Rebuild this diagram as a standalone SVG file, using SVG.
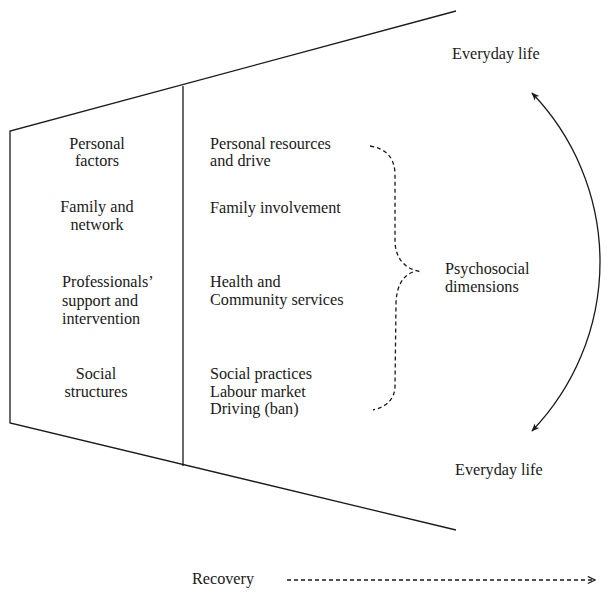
<svg xmlns="http://www.w3.org/2000/svg" width="611" height="600" viewBox="0 0 611 600">
<style>
text{font-family:"Liberation Serif","Times New Roman",serif;font-size:16.2px;fill:#1a1a1a}
.c{text-anchor:middle}
.ln{fill:none;stroke:#1a1a1a;stroke-width:1.3}
.dash{fill:none;stroke:#1a1a1a;stroke-width:1.3;stroke-dasharray:4,3}
</style>
<defs>
<marker id="ah" viewBox="0 0 10 10" refX="9" refY="5" markerWidth="8" markerHeight="8" orient="auto-start-reverse" markerUnits="userSpaceOnUse">
<path d="M0,1 L10,5 L0,9 L2.5,5 Z" fill="#1a1a1a"/>
</marker>
<marker id="oh" viewBox="0 0 10 10" refX="9" refY="5" markerWidth="9" markerHeight="9" orient="auto" markerUnits="userSpaceOnUse">
<path d="M1,1 L9,5 L1,9" fill="none" stroke="#1a1a1a" stroke-width="1.3"/>
</marker>
</defs>
<g id="funnel">
<path class="ln" d="M456,11 L10,131 L10,423 L456,530"/>
<line class="ln" x1="183" y1="86" x2="183" y2="466"/>
</g>
<g id="left-labels">
<text class="c" x="97" y="148.5">Personal</text>
<text class="c" x="97" y="166">factors</text>
<text class="c" x="97" y="212">Family and</text>
<text class="c" x="97" y="229.5">network</text>
<text x="62" y="287">Professionals’</text>
<text x="62" y="305.5">support and</text>
<text x="62" y="324">intervention</text>
<text class="c" x="96" y="379">Social</text>
<text class="c" x="96" y="397">structures</text>
</g>
<g id="right-labels">
<text x="210" y="148.5">Personal resources</text>
<text x="210" y="166">and drive</text>
<text x="210" y="212.5">Family involvement</text>
<text x="210" y="287">Health and</text>
<text x="210" y="305">Community services</text>
<text x="210" y="379">Social practices</text>
<text x="210" y="397">Labour market</text>
<text x="210" y="414">Driving (ban)</text>
</g>
<g id="psychosocial">
<text x="445" y="274">Psychosocial</text>
<text x="445" y="292">dimensions</text>
</g>
<g id="everyday-top"><text x="452" y="59">Everyday life</text></g>
<g id="everyday-bottom"><text x="455" y="475">Everyday life</text></g>
<g id="recovery"><text x="192" y="584">Recovery</text></g>
<g id="connectors">
<path class="dash" d="M370,146 Q395,150 395,175 L395,243 Q397,268 422,272"/>
<path class="dash" d="M413,272 Q397,278 396,303 L395,387 Q394,405 373,410"/>
<path class="ln" d="M532,93 A244,244 0 0 1 532,431" marker-start="url(#ah)" marker-end="url(#ah)"/>
<line class="dash" x1="287" y1="580" x2="595" y2="580" marker-end="url(#oh)"/>
</g>
</svg>
